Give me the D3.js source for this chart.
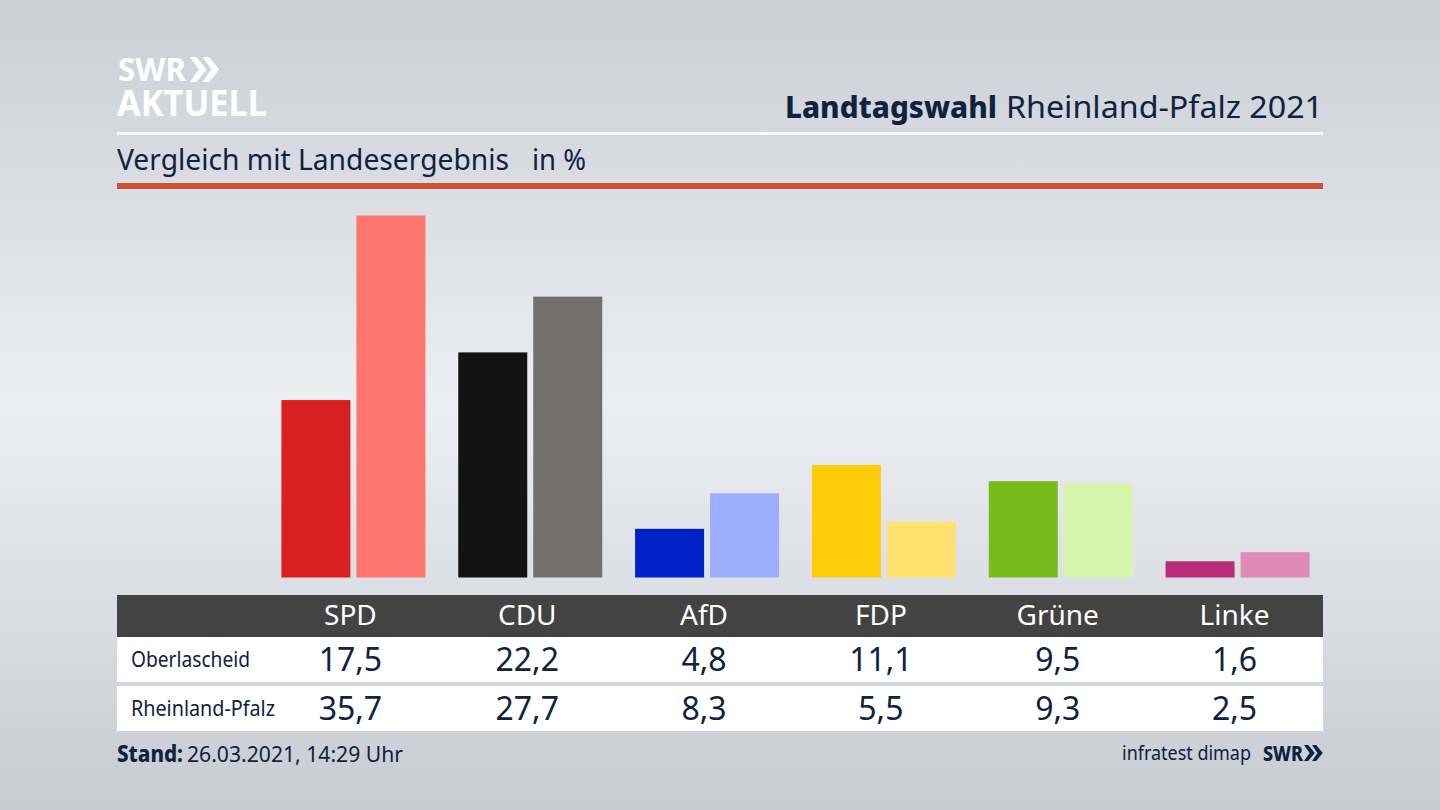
<!DOCTYPE html>
<html><head><meta charset="utf-8">
<script src="https://cdn.jsdelivr.net/npm/d3@7"></script>
<style>
html,body{margin:0;padding:0;background:#dfe2e7;overflow:hidden}
svg{display:block}
text{font-family:"Noto Sans",sans-serif;fill:#0f2240}
</style></head><body>
<svg id="c" width="1440" height="810"></svg>
<script>
const parties=["SPD","CDU","AfD","FDP","Grüne","Linke"];
const regions=["Oberlascheid","Rheinland-Pfalz"];
const oberlascheid=[17.5,22.2,4.8,11.1,9.5,1.6];
const rheinlandPfalz=[35.7,27.7,8.3,5.5,9.3,2.5];
const colorsLocal=["#d7201f","#131313","#0122c8","#ffcc0a","#78bc1c","#b92c78"];
const colorsState=["#ff7570","#72706e","#9dadff","#ffe172","#d5f6ab","#e08ab8"];
const title=["Landtagswahl","Rheinland-Pfalz 2021"];
const subtitle="Vergleich mit Landesergebnis";
const unit="in %";
const standLabel="Stand:";
const standValue="26.03.2021, 14:29 Uhr";
const sourceLabel="infratest dimap";

const svg=d3.select("#c");
const defs=svg.append("defs");
const g=defs.append("linearGradient").attr("id","bg").attr("x1",0).attr("y1",0).attr("x2",0).attr("y2",1);
[[0,"#cbcfd6"],[.22,"#d9dce2"],[.5,"#eceef2"],[.75,"#dadde3"],[1,"#c7cbd2"]].forEach(([o,c])=>g.append("stop").attr("offset",o).attr("stop-color",c));
svg.append("rect").attr("width",1440).attr("height",810).attr("fill","url(#bg)");

const x=d3.scaleBand().domain(parties).range([262,1323]);
const y=d3.scaleLinear().domain([0,35.7]).range([577.5,215.5]);
const barW=69, gap=6;
const fit=(sel,len)=>sel.attr("textLength",len).attr("lengthAdjust","spacingAndGlyphs");

// header
const chev=(s,px,py,h,fill)=>{
  const w=h*0.55;
  [0,0.5].forEach(k=>{
    const ox=px+k*h;
    s.append("path").attr("d",`M${ox},${py} L${ox+h*.26},${py} L${ox+w+h*.12},${py+h/2} L${ox+h*.26},${py+h} L${ox},${py+h} L${ox+w-h*.2},${py+h/2} Z`).attr("fill",fill);
  });
};
fit(svg.append("text").attr("x",118).attr("y",81).attr("font-size",33).attr("font-weight",700).style("fill","#fff").text("SWR"),68);
chev(svg,190,57,25,"#fff");
fit(svg.append("text").attr("x",117).attr("y",116).attr("font-size",36).attr("font-weight",700).style("fill","#fff").text("AKTUELL"),150);

fit(svg.append("text").attr("x",785).attr("y",118).attr("font-size",31).attr("font-weight",800).text(title[0]),212);
fit(svg.append("text").attr("x",1006).attr("y",118).attr("font-size",31).text(title[1]),317);
svg.append("rect").attr("x",117).attr("y",132).attr("width",1206).attr("height",3).attr("fill","#fff");
fit(svg.append("text").attr("x",117).attr("y",170).attr("font-size",29).text(subtitle),392);
fit(svg.append("text").attr("x",532).attr("y",170).attr("font-size",29).text(unit),54);
svg.append("rect").attr("x",117).attr("y",183).attr("width",1206).attr("height",6).attr("fill","#cd5238");

// bars
const center=p=>x(p)+x.bandwidth()/2;
svg.append("g").selectAll("rect").data(parties).join("rect")
  .attr("x",p=>center(p)-barW).attr("width",barW)
  .attr("y",(p,i)=>y(oberlascheid[i])).attr("height",(p,i)=>y(0)-y(oberlascheid[i]))
  .attr("fill",(p,i)=>colorsLocal[i]);
svg.append("g").selectAll("rect").data(parties).join("rect")
  .attr("x",p=>center(p)+gap).attr("width",barW)
  .attr("y",(p,i)=>y(rheinlandPfalz[i])).attr("height",(p,i)=>y(0)-y(rheinlandPfalz[i]))
  .attr("fill",(p,i)=>colorsState[i]);

// table
svg.append("rect").attr("x",117).attr("y",595).attr("width",1206).attr("height",42).attr("fill","#434343");
svg.append("rect").attr("x",117).attr("y",637).attr("width",1206).attr("height",45).attr("fill","#fff");
svg.append("rect").attr("x",117).attr("y",686).attr("width",1206).attr("height",45).attr("fill","#fff");
svg.append("g").selectAll("text").data(parties).join("text")
  .attr("x",center).attr("y",625).attr("text-anchor","middle").attr("font-size",28).style("fill","#fff").text(d=>d);
const fmt=v=>v.toFixed(1).replace(".",",");
[[oberlascheid,671,119],[rheinlandPfalz,720,144]].forEach(([vals,by,lw],r)=>{
  fit(svg.append("text").attr("x",131).attr("y",by-4.5).attr("font-size",21).text(regions[r]),lw);
  svg.append("g").selectAll("text").data(vals).join("text")
    .attr("x",(v,i)=>center(parties[i])).attr("y",by).attr("text-anchor","middle").attr("font-size",32).text(fmt);
});

// footer
fit(svg.append("text").attr("x",117).attr("y",762).attr("font-size",22.5).attr("font-weight",800).text(standLabel),66);
fit(svg.append("text").attr("x",187).attr("y",762).attr("font-size",22.5).text(standValue),216);
fit(svg.append("text").attr("x",1122).attr("y",760).attr("font-size",19).text(sourceLabel),129);
fit(svg.append("text").attr("x",1263).attr("y",761).attr("font-size",22).attr("font-weight",800).text("SWR"),40);
chev(svg,1304,745,16,"#0f2240");
</script></body></html>
